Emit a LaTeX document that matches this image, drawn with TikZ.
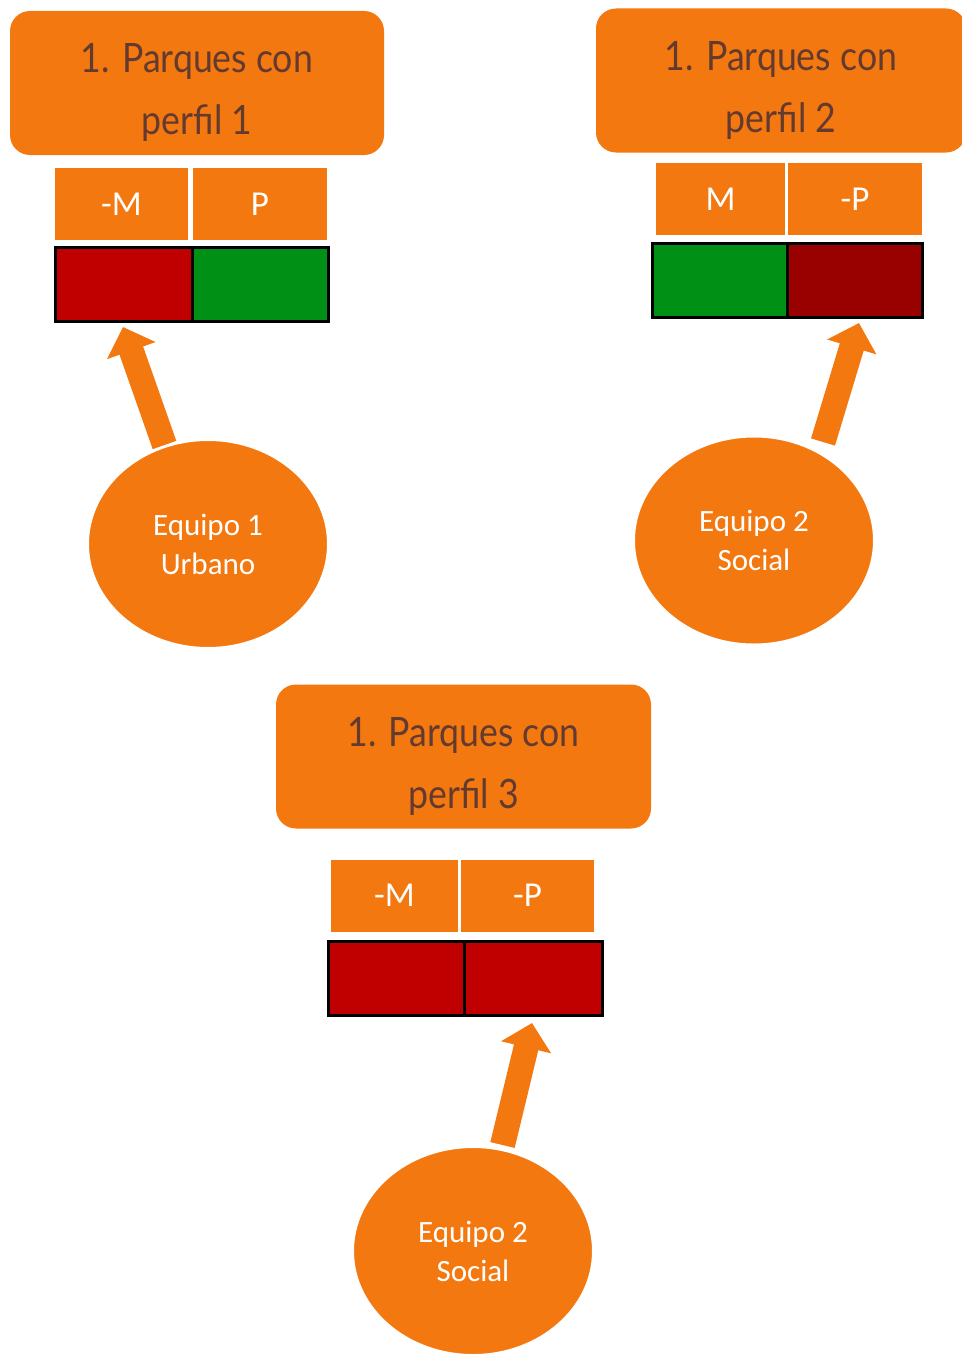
\documentclass[tikz,border=0pt]{standalone}
\usepackage{graphicx}
\usepackage{fontspec}
\setmainfont{Carlito}
\newfontfamily\titlefont{Lato}
\usetikzlibrary{shapes.geometric,arrows.meta}
\definecolor{org}{HTML}{F47810}
\definecolor{ttext}{HTML}{633A2F}
\definecolor{bred}{HTML}{C00000}
\definecolor{dred}{HTML}{990000}
\definecolor{bgreen}{HTML}{009016}
\newcommand{\tln}[1]{\scalebox{0.88}[1]{#1}}
\newcommand{\firstl}[1]{\rule{0pt}{48pt}\tln{#1}}
\begin{document}
\begin{tikzpicture}[x=1pt,y=-1pt,
  titlebox/.style={rectangle, rounded corners=20pt, fill=org, minimum width=#1, minimum height=144pt,
    inner sep=0pt, font=\titlefont\fontsize{40.5}{62}\selectfont, text=ttext, align=center},
  labbox/.style={rectangle, fill=org, minimum width=#1, minimum height=72pt, inner sep=0pt,
    font=\fontsize{35}{40}\selectfont, text=white},
  cell/.style={rectangle, draw=black, line width=3pt, fill=#1, minimum width=136pt, minimum height=74pt, inner sep=0pt},
  team/.style={ellipse, fill=org, draw=white, line width=2pt, minimum width=240pt, minimum height=208pt,
    inner sep=0pt, font=\fontsize{31}{39}\selectfont, text=white, align=center},
  bigarrow/.style={draw=org, line width=25pt, -{Triangle[width=50pt,length=25pt]}}
]
\useasboundingbox (0,0) rectangle (961,1354);

% ---------- profile 1 ----------
\node[titlebox=374pt] (t1) at (197,83) {\firstl{1. Parques con}\\\tln{perfil 1}};
\node[labbox=133pt] (l1a) at (121.5,204) {-M};
\node[labbox=134pt] (l1b) at (260,204) {P};
\node[cell=bred, minimum width=136.5pt] (c1a) at (123.75,284.5) {};
\node[cell=bgreen, minimum width=136.5pt] (c1b) at (260.25,284.5) {};

% ---------- profile 2 ----------
\node[titlebox=370pt] (t2) at (781,80.5) {\firstl{1. Parques con}\\\tln{perfil 2}};
\node[labbox=129pt] (l2a) at (720.5,199) {M};
\node[labbox=134pt] (l2b) at (855,199) {-P};
\node[cell=bgreen, minimum width=135pt] (c2a) at (719.75,280.5) {};
\node[cell=dred, minimum width=135pt] (c2b) at (854.75,280.5) {};

% ---------- profile 3 ----------
\node[titlebox=375pt] (t3) at (463.5,756.5) {\firstl{1. Parques con}\\\tln{perfil 3}};
\node[labbox=127pt] (l3a) at (394.5,895.5) {-M};
\node[labbox=133pt] (l3b) at (527.5,895.5) {-P};
\node[cell=bred, minimum width=136.5pt] (c3a) at (396.25,978) {};
\node[cell=bred, minimum width=137.5pt] (c3b) at (533.25,978) {};

% ---------- arrows ----------
\coordinate (s1) at (164.5,445);
\coordinate (p1) at (123,327);
\coordinate (s2) at (823,442);
\coordinate (p2) at (859,323);
\coordinate (s3) at (502.5,1145);
\coordinate (p3) at (532,1023);
\draw[bigarrow] (s1) -- (p1);
\draw[bigarrow] (s2) -- (p2);
\draw[bigarrow] (s3) -- (p3);

% ---------- teams ----------
\node[team] (e1) at (208,544) {Equipo 1\\Urbano};
\node[team] (e2) at (754,540.5) {Equipo 2\\Social};
\node[team] (e3) at (473,1251) {Equipo 2\\Social};
\end{tikzpicture}
\end{document}
